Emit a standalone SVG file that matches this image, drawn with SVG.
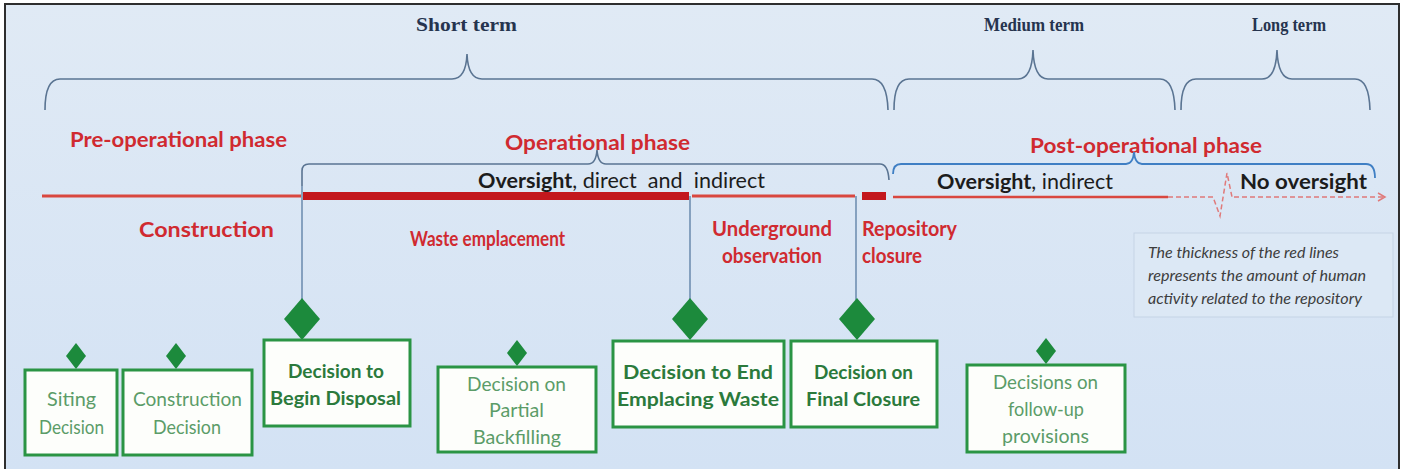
<svg xmlns="http://www.w3.org/2000/svg" width="1405" height="473" viewBox="0 0 1405 473">
<defs>
<linearGradient id="bg" x1="0" y1="0" x2="0" y2="1">
<stop offset="0" stop-color="#e0eaf5"/>
<stop offset="1" stop-color="#d3e2f4"/>
</linearGradient>
<marker id="arr" markerWidth="10" markerHeight="10" refX="8" refY="5" orient="auto" markerUnits="userSpaceOnUse">
<path d="M1,1 L8,5 L1,9" fill="none" stroke="#e07a7a" stroke-width="1.5"/>
</marker>
</defs>
<style>
.term{font-family:"Liberation Serif",serif;font-weight:bold;font-size:18px;fill:#26344f}
.phase{font-family:Lato,"Open Sans",sans-serif;font-weight:bold;font-size:21px;fill:#d02a30}
.over{font-family:Lato,"Open Sans",sans-serif;font-size:21px;fill:#1c1c1c}
.brace{fill:none;stroke:#5a7492;stroke-width:1.6}
.conn{fill:none;stroke:#6283a8;stroke-width:1.4}
.dia{fill:#1c8a3c}
.box{fill:#fdfefb;stroke:#2a9444;stroke-width:3}
.bt{font-family:Lato,"Open Sans",sans-serif;font-size:19px}
.bb{font-weight:bold;fill:#2b7a3c}
.bl{fill:#5b9c68}
.note{font-family:Lato,"Open Sans",sans-serif;font-style:italic;font-size:15px;fill:#3d3d3d}
</style>
<rect x="0" y="0" width="1405" height="473" fill="#ffffff"/>
<rect x="5" y="4" width="1394" height="465" fill="url(#bg)"/>
<path d="M5,469 L5,4 L1399,4 L1399,469" fill="none" stroke="#2e2e2e" stroke-width="2"/>

<g id="terms">
<text class="term" x="416" y="31" textLength="101" lengthAdjust="spacingAndGlyphs">Short term</text>
<text class="term" x="984" y="31" textLength="100" lengthAdjust="spacingAndGlyphs">Medium term</text>
<text class="term" x="1252" y="31" textLength="74" lengthAdjust="spacingAndGlyphs">Long term</text>
</g>

<g id="braces">
<path class="brace" d="M45,110 Q45,79 60,79 L452,79 Q466,79 467,54 Q468,79 482,79 L872,79 Q887,79 888,110"/>
<path class="brace" d="M894,110 Q894,79 909,79 L1018,79 Q1032,79 1033,50 Q1034,79 1048,79 L1160,79 Q1174,79 1175,110"/>
<path class="brace" d="M1181,110 Q1181,79 1196,79 L1262,79 Q1276,79 1277,50 Q1278,79 1292,79 L1355,79 Q1369,79 1370,110"/>
</g>

<g id="phases">
<text class="phase" x="70" y="147" textLength="217" lengthAdjust="spacingAndGlyphs">Pre-operational phase</text>
<text class="phase" x="505" y="150" textLength="185" lengthAdjust="spacingAndGlyphs">Operational phase</text>
<text class="phase" x="1030" y="153" textLength="232" lengthAdjust="spacingAndGlyphs">Post-operational phase</text>
</g>

<g id="connectors">
<path class="brace" d="M302,186 L302,171 Q302,164 309,164 L588,164 Q596,164 597,150 Q598,164 606,164 L880,164 Q888,164 889,180"/>
<path d="M893,174 Q893,164 901,164 L1126,164 Q1133,164 1134,152 Q1135,164 1142,164 L1366,164 Q1375,164 1375,178" fill="none" stroke="#3f7fc4" stroke-width="1.8"/>
<line class="conn" x1="302" y1="186" x2="302" y2="300"/>
<line class="conn" x1="690" y1="196" x2="690" y2="300"/>
<line class="conn" x1="856" y1="196" x2="856" y2="300"/>
<line x1="42" y1="196" x2="301" y2="196" stroke="#d9473f" stroke-width="3"/>
<line x1="303" y1="196" x2="689" y2="196" stroke="#c3171d" stroke-width="8"/>
<line x1="692" y1="196" x2="855" y2="196" stroke="#d9473f" stroke-width="3"/>
<line x1="862" y1="196" x2="886" y2="196" stroke="#c3171d" stroke-width="8"/>
<line x1="893" y1="197" x2="1168" y2="197" stroke="#d9473f" stroke-width="2.5"/>
<path d="M1168,197 L1213,197 L1220,216 L1227,173 L1232,197" fill="none" stroke="#e07a7a" stroke-width="1.5" stroke-dasharray="5,3"/>
<line x1="1234" y1="197" x2="1385" y2="197" stroke="#e07a7a" stroke-width="1.5" stroke-dasharray="5,3" marker-end="url(#arr)"/>
</g>

<g id="oversight">
<text class="over" x="478" y="188" xml:space="preserve" textLength="287" lengthAdjust="spacingAndGlyphs"><tspan font-weight="bold">Oversight</tspan>, direct  and  indirect</text>
<text class="over" x="937" y="189" textLength="176" lengthAdjust="spacingAndGlyphs"><tspan font-weight="bold">Oversight</tspan>, indirect</text>
<text class="over" x="1240" y="189" font-weight="bold" textLength="127" lengthAdjust="spacingAndGlyphs">No oversight</text>
</g>

<g id="activities">
<text class="phase" x="139" y="237" textLength="135" lengthAdjust="spacingAndGlyphs">Construction</text>
<text class="phase" x="410" y="246" font-size="16.5" textLength="155" lengthAdjust="spacingAndGlyphs">Waste emplacement</text>
<text class="phase" x="712" y="236" font-size="18" textLength="120" lengthAdjust="spacingAndGlyphs">Underground</text>
<text class="phase" x="722" y="263" font-size="18" textLength="100" lengthAdjust="spacingAndGlyphs">observation</text>
<text class="phase" x="862" y="236" font-size="18" textLength="95" lengthAdjust="spacingAndGlyphs">Repository</text>
<text class="phase" x="862" y="263" font-size="18" textLength="60" lengthAdjust="spacingAndGlyphs">closure</text>
</g>

<g id="siting">
<path class="dia" d="M76,343 L86,356 L76,369 L66,356 Z"/>
<rect class="box" x="25" y="370" width="92" height="85"/>
<text class="bt bl" x="47" y="406" textLength="49" lengthAdjust="spacingAndGlyphs">Siting</text>
<text class="bt bl" x="39" y="434" textLength="65" lengthAdjust="spacingAndGlyphs">Decision</text>
</g>
<g id="construction">
<path class="dia" d="M176,343 L186,356 L176,369 L166,356 Z"/>
<rect class="box" x="123" y="370" width="129" height="85"/>
<text class="bt bl" x="133" y="406" textLength="109" lengthAdjust="spacingAndGlyphs">Construction</text>
<text class="bt bl" x="153" y="434" textLength="68" lengthAdjust="spacingAndGlyphs">Decision</text>
</g>
<g id="begin-disposal">
<path class="dia" d="M302,298 L320,319 L302,340 L284,319 Z"/>
<rect class="box" x="264" y="340" width="146" height="86"/>
<text class="bt bb" x="288" y="378" textLength="96" lengthAdjust="spacingAndGlyphs">Decision to</text>
<text class="bt bb" x="270" y="405" textLength="131" lengthAdjust="spacingAndGlyphs">Begin Disposal</text>
</g>
<g id="partial-backfilling">
<path class="dia" d="M517,340 L527,353 L517,366 L507,353 Z"/>
<rect class="box" x="438" y="367" width="158" height="85"/>
<text class="bt bl" x="467" y="391" textLength="99" lengthAdjust="spacingAndGlyphs">Decision on</text>
<text class="bt bl" x="489" y="417" textLength="55" lengthAdjust="spacingAndGlyphs">Partial</text>
<text class="bt bl" x="473" y="444" textLength="88" lengthAdjust="spacingAndGlyphs">Backfilling</text>
</g>
<g id="end-emplacing">
<path class="dia" d="M690,298 L708,319 L690,340 L672,319 Z"/>
<rect class="box" x="613" y="341" width="171" height="86"/>
<text class="bt bb" x="623" y="379" textLength="150" lengthAdjust="spacingAndGlyphs">Decision to End</text>
<text class="bt bb" x="617" y="406" textLength="162" lengthAdjust="spacingAndGlyphs">Emplacing Waste</text>
</g>
<g id="final-closure">
<path class="dia" d="M857,298 L875,319 L857,340 L839,319 Z"/>
<rect class="box" x="791" y="341" width="146" height="86"/>
<text class="bt bb" x="814" y="379" textLength="99" lengthAdjust="spacingAndGlyphs">Decision on</text>
<text class="bt bb" x="806" y="406" textLength="114" lengthAdjust="spacingAndGlyphs">Final Closure</text>
</g>
<g id="follow-up">
<path class="dia" d="M1046,338 L1056,351 L1046,364 L1036,351 Z"/>
<rect class="box" x="967" y="365" width="158" height="87"/>
<text class="bt bl" x="993" y="389" textLength="105" lengthAdjust="spacingAndGlyphs">Decisions on</text>
<text class="bt bl" x="1008" y="416" textLength="76" lengthAdjust="spacingAndGlyphs">follow-up</text>
<text class="bt bl" x="1002" y="443" textLength="87" lengthAdjust="spacingAndGlyphs">provisions</text>
</g>

<g id="note">
<rect x="1134" y="233" width="259" height="84" fill="#dce8f5" stroke="#c5d4e5" stroke-width="1"/>
<text class="note" x="1148" y="258" textLength="191" lengthAdjust="spacingAndGlyphs">The thickness of the red lines</text>
<text class="note" x="1148" y="281" textLength="218" lengthAdjust="spacingAndGlyphs">represents the amount of human</text>
<text class="note" x="1148" y="304" textLength="214" lengthAdjust="spacingAndGlyphs">activity related to the repository</text>
</g>
</svg>
